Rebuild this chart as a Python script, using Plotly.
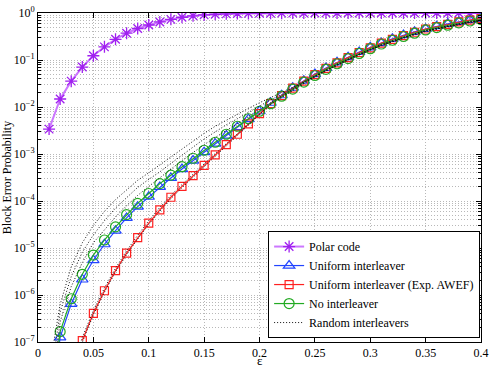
import plotly.graph_objects as go

# erasure probability grid
eps = [0.01, 0.02, 0.03, 0.04, 0.05, 0.06, 0.07, 0.08, 0.09, 0.10,
       0.11, 0.12, 0.13, 0.14, 0.15, 0.16, 0.17, 0.18, 0.19, 0.20,
       0.21, 0.22, 0.23, 0.24, 0.25, 0.26, 0.27, 0.28, 0.29, 0.30,
       0.31, 0.32, 0.33, 0.34, 0.35, 0.36, 0.37, 0.38, 0.39, 0.40]

# log10 of the block error probability
polar_log = [-2.47, -1.83, -1.45, -1.15, -0.91, -0.72, -0.56, -0.43, -0.33, -0.255,
             -0.19, -0.135, -0.09, -0.06, -0.04, -0.027, -0.018, -0.012, -0.008, -0.005,
             -0.004, -0.003, -0.002, -0.0015, -0.001, -0.001, -0.001, 0, 0, 0,
             0, 0, 0, 0, 0, 0, 0, 0, 0, 0]

uniform_log = [-8.8, -6.9, -6.19, -5.67, -5.26, -4.92, -4.63, -4.36, -4.12, -3.91,
               -3.70, -3.51, -3.32, -3.14, -2.96, -2.78, -2.61, -2.43, -2.26, -2.09,
               -1.91, -1.75, -1.59, -1.44, -1.30, -1.17, -1.05, -0.94, -0.83, -0.73,
               -0.64, -0.55, -0.47, -0.40, -0.34, -0.28, -0.23, -0.19, -0.15, -0.12]

awef_log = [None, None, None, -6.97, -6.39, -5.91, -5.48, -5.11, -4.78, -4.47,
            -4.19, -3.92, -3.69, -3.46, -3.24, -3.02, -2.80, -2.58, -2.36, -2.14,
            -1.93, -1.76, -1.60, -1.45, -1.31, -1.18, -1.06, -0.95, -0.84, -0.74,
            -0.64, -0.56, -0.48, -0.41, -0.34, -0.29, -0.24, -0.19, -0.15, -0.12]

no_inter_log = [-8.6, -6.78, -6.08, -5.56, -5.15, -4.83, -4.55, -4.29, -4.05, -3.84,
                -3.63, -3.45, -3.27, -3.09, -2.92, -2.75, -2.58, -2.41, -2.25, -2.09,
                -1.93, -1.77, -1.62, -1.47, -1.33, -1.20, -1.08, -0.97, -0.86, -0.76,
                -0.66, -0.58, -0.50, -0.43, -0.36, -0.31, -0.26, -0.21, -0.17, -0.14]

rand_a = [-7.6, -6.2, -5.40, -4.89, -4.52, -4.22, -3.97, -3.76, -3.56, -3.40,
          -3.23, -3.06, -2.89, -2.73, -2.56, -2.41, -2.28, -2.15, -2.03, -1.91,
          -1.80, -1.70, -1.58, -1.46, -1.35, -1.22, -1.10, -0.99, -0.88, -0.78,
          -0.68, -0.60, -0.52, -0.45, -0.38, -0.33, -0.28, -0.23, -0.19, -0.16]
rand_b = [-8.0, -6.36, -5.61, -5.09, -4.72, -4.42, -4.15, -3.92, -3.71, -3.54,
          -3.38, -3.20, -3.02, -2.85, -2.68, -2.53, -2.38, -2.25, -2.11, -1.98,
          -1.85, -1.73, -1.59, -1.48, -1.34, -1.21, -1.09, -0.98, -0.87, -0.77,
          -0.67, -0.59, -0.51, -0.44, -0.37, -0.32, -0.27, -0.22, -0.18, -0.15]
rand_c = [-8.4, -6.57, -5.82, -5.31, -4.89, -4.61, -4.34, -4.10, -3.88, -3.69,
          -3.50, -3.32, -3.14, -2.97, -2.80, -2.65, -2.50, -2.35, -2.20, -2.06,
          -1.91, -1.76, -1.62, -1.48, -1.36, -1.23, -1.11, -1.00, -0.89, -0.79,
          -0.69, -0.61, -0.53, -0.46, -0.39, -0.34, -0.29, -0.24, -0.20, -0.17]
rand_d = [None, None, -7.7, -6.90, -6.33, -5.85, -5.43, -5.06, -4.73, -4.42,
          -4.14, -3.88, -3.65, -3.42, -3.21, -2.99, -2.78, -2.56, -2.35, -2.13,
          -1.94, -1.79, -1.64, -1.49, -1.35, -1.22, -1.10, -0.99, -0.88, -0.78,
          -0.68, -0.60, -0.52, -0.45, -0.38, -0.33, -0.28, -0.23, -0.19, -0.16]
rand_e = [None, None, -7.85, -7.01, -6.42, -5.94, -5.51, -5.14, -4.81, -4.50,
          -4.22, -3.95, -3.72, -3.49, -3.27, -3.05, -2.83, -2.60, -2.38, -2.16,
          -1.95, -1.80, -1.65, -1.50, -1.36, -1.23, -1.11, -1.00, -0.89, -0.79,
          -0.69, -0.61, -0.53, -0.46, -0.39, -0.34, -0.29, -0.24, -0.20, -0.17]
random_runs = [rand_a, rand_b, rand_c, rand_d, rand_e]

y_ticks = [1e-7, 1e-6, 1e-5, 1e-4, 1e-3, 1e-2, 1e-1, 1]
y_ticktext = ["10<sup>−7</sup>", "10<sup>−6</sup>", "10<sup>−5</sup>", "10<sup>−4</sup>",
              "10<sup>−3</sup>", "10<sup>−2</sup>", "10<sup>−1</sup>", "10<sup>0</sup>"]
x_ticks = [0, 0.05, 0.1, 0.15, 0.2, 0.25, 0.3, 0.35, 0.4]
x_ticktext = ["0", "0.05", "0.1", "0.15", "0.2", "0.25", "0.3", "0.35", "0.4"]

SERIF = "Times New Roman, Liberation Serif, DejaVu Serif, serif"


def lin(vals):
    return [None if v is None else 10 ** v for v in vals]


fig = go.Figure()

fig.add_trace(go.Scatter(
    x=eps, y=lin(polar_log), name="Polar code", mode="lines+markers",
    line=dict(color="#CC77FF", width=2),
    marker=dict(symbol="asterisk-open", size=10, color="#A020F0",
                line=dict(color="#A020F0", width=1.3))))
fig.add_trace(go.Scatter(
    x=eps, y=lin(uniform_log), name="Uniform interleaver", mode="lines+markers",
    line=dict(color="#2244FF", width=1.2),
    marker=dict(symbol="triangle-up-open", size=10, color="#2244FF",
                line=dict(color="#2244FF", width=1.2))))
fig.add_trace(go.Scatter(
    x=eps, y=lin(awef_log), name="Uniform interleaver (Exp. AWEF)", mode="lines+markers",
    line=dict(color="#FF2020", width=1.2),
    marker=dict(symbol="square-open", size=8, color="#FF2020",
                line=dict(color="#FF2020", width=1.2))))
fig.add_trace(go.Scatter(
    x=eps, y=lin(no_inter_log), name="No interleaver", mode="lines+markers",
    line=dict(color="#22AA22", width=1.2),
    marker=dict(symbol="circle-open", size=10, color="#22AA22",
                line=dict(color="#22AA22", width=1.2))))

for i, run in enumerate(random_runs):
    fig.add_trace(go.Scatter(
        x=eps, y=lin(run), name="Random interleavers", mode="lines",
        legendgroup="rand", showlegend=(i == 0),
        line=dict(color="#111111", width=1, dash="1px,2px")))

grid = "#B8B8B8"
fig.update_xaxes(
    range=[0, 0.4], tickvals=x_ticks, ticktext=x_ticktext, automargin=False,
    showline=True, linecolor="black", linewidth=1, mirror="ticks",
    ticks="inside", ticklen=5, tickcolor="black", tickfont=dict(size=12),
    showgrid=True, gridcolor=grid, griddash="1px,2px", gridwidth=1,
    zeroline=False)
fig.update_yaxes(
    type="log", range=[-7, 0], tickvals=y_ticks, ticktext=y_ticktext, automargin=False,
    showline=True, linecolor="black", linewidth=1, mirror="ticks",
    ticks="inside", ticklen=5, tickcolor="black", tickfont=dict(size=12),
    showgrid=True, gridcolor=grid, griddash="1px,2px", gridwidth=1,
    minor=dict(dtick="D1", showgrid=True, gridcolor=grid, griddash="1px,2px",
               ticks="inside", ticklen=3, tickcolor="black"),
    zeroline=False, title=dict(text="Block Error Probability", standoff=0, font=dict(size=12)))

# x-axis label sits a little lower than plotly would put it inside the margin
fig.add_annotation(text="ε", xref="paper", yref="paper", x=0.5, y=-0.084,
                   yanchor="bottom", showarrow=False, font=dict(size=13))

fig.update_layout(
    width=491, height=370,
    margin=dict(l=38, r=10, t=13, b=28),
    paper_bgcolor="white", plot_bgcolor="white",
    font=dict(family=SERIF, color="#000", size=12),
    showlegend=True,
    legend=dict(
        x=0.998, xanchor="right", y=0.012, yanchor="bottom",
        bgcolor="white", bordercolor="black", borderwidth=1,
        font=dict(size=12, family=SERIF), tracegroupgap=0, itemwidth=30,
    ),
)

# drop the browser's default page margin so the figure sits at the window corner
fig.write_html("out.html", config={"displayModeBar": False},
               post_script="document.body.style.margin='0';")
